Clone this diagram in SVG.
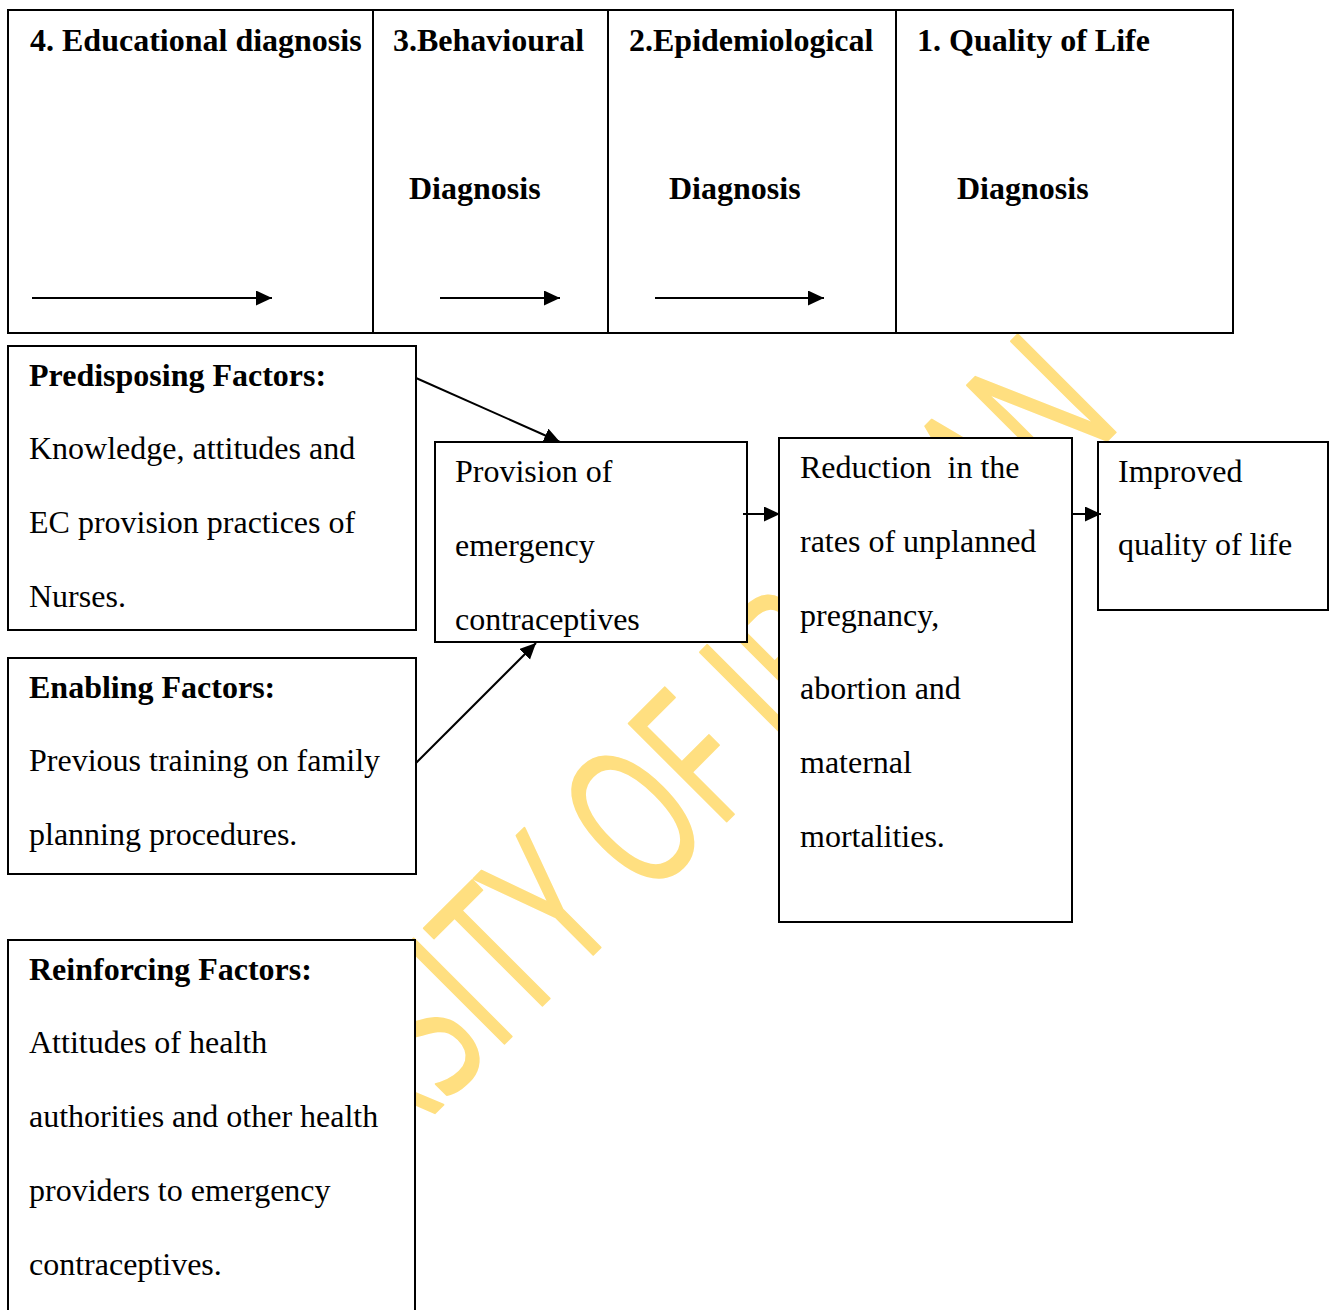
<svg xmlns="http://www.w3.org/2000/svg" width="1329" height="1310" viewBox="0 0 1329 1310">
<style>
.box{fill:#ffffff;stroke:#000000;stroke-width:2}
.div{stroke:#000000;stroke-width:2}
.t{font-family:"Liberation Serif","Times New Roman",serif;font-size:32px;fill:#000000;white-space:pre}
.b{font-weight:bold}
.con{stroke:#000000;stroke-width:2;fill:none}
.wm{font-family:"Open Sans","Noto Sans",sans-serif;font-size:194px;fill:#FFDF80;stroke:#FFDF80;stroke-width:2;stroke-linejoin:round}
</style>
<defs>
<marker id="ah" markerUnits="userSpaceOnUse" markerWidth="18" markerHeight="16" refX="16" refY="7.5" orient="auto">
<path d="M0,0 L16,7.5 L0,15 z" fill="#000000"/>
</marker>
</defs>
<rect width="1329" height="1310" fill="#ffffff"/>
<g id="watermark" transform="translate(121.5,1426.5) rotate(-45) scale(0.668,1)">
<text class="wm" x="0" y="0">UNIVERSITY OF IBADAN</text>
</g>
<g id="stages">
<rect class="box" x="8" y="10" width="1225" height="323"/>
<line class="div" x1="373" y1="10" x2="373" y2="333"/>
<line class="div" x1="608" y1="10" x2="608" y2="333"/>
<line class="div" x1="896" y1="10" x2="896" y2="333"/>
<g id="stage4"><text class="t b" x="30" y="51">4. Educational diagnosis</text></g>
<g id="stage3"><text class="t b" x="393" y="51">3.Behavioural</text><text class="t b" x="409" y="199">Diagnosis</text></g>
<g id="stage2"><text class="t b" x="629" y="51">2.Epidemiological</text><text class="t b" x="669" y="199">Diagnosis</text></g>
<g id="stage1"><text class="t b" x="917" y="51">1. Quality of Life</text><text class="t b" x="957" y="199">Diagnosis</text></g>
</g>
<g id="predisposing">
<rect class="box" x="8" y="346" width="408" height="284"/>
<text class="t b" x="29" y="386">Predisposing Factors:</text>
<text class="t" x="29" y="459">Knowledge, attitudes and</text>
<text class="t" x="29" y="533">EC provision practices of</text>
<text class="t" x="29" y="607">Nurses.</text>
</g>
<g id="enabling">
<rect class="box" x="8" y="658" width="408" height="216"/>
<text class="t b" x="29" y="698">Enabling Factors:</text>
<text class="t" x="29" y="771">Previous training on family</text>
<text class="t" x="29" y="845">planning procedures.</text>
</g>
<g id="reinforcing">
<rect class="box" x="8" y="940" width="407" height="400"/>
<text class="t b" x="29" y="980">Reinforcing Factors:</text>
<text class="t" x="29" y="1053">Attitudes of health</text>
<text class="t" x="29" y="1127">authorities and other health</text>
<text class="t" x="29" y="1201">providers to emergency</text>
<text class="t" x="29" y="1275">contraceptives.</text>
</g>
<g id="provision">
<rect class="box" x="435" y="442" width="312" height="200"/>
<text class="t" x="455" y="482">Provision of</text>
<text class="t" x="455" y="556">emergency</text>
<text class="t" x="455" y="630">contraceptives</text>
</g>
<g id="reduction">
<rect class="box" x="779" y="438" width="293" height="484"/>
<text class="t" x="800" y="478">Reduction  in the</text>
<text class="t" x="800" y="552">rates of unplanned</text>
<text class="t" x="800" y="626">pregnancy,</text>
<text class="t" x="800" y="699">abortion and</text>
<text class="t" x="800" y="773">maternal</text>
<text class="t" x="800" y="847">mortalities.</text>
</g>
<g id="improved">
<rect class="box" x="1098" y="442" width="230" height="168"/>
<text class="t" x="1118" y="482">Improved</text>
<text class="t" x="1118" y="555">quality of life</text>
</g>
<g id="connectors">
<line class="con" x1="32" y1="298" x2="272" y2="298" marker-end="url(#ah)"/>
<line class="con" x1="440" y1="298" x2="560" y2="298" marker-end="url(#ah)"/>
<line class="con" x1="655" y1="298" x2="824" y2="298" marker-end="url(#ah)"/>
<line class="con" x1="416" y1="378" x2="560" y2="442" marker-end="url(#ah)"/>
<line class="con" x1="416" y1="763" x2="536" y2="643" marker-end="url(#ah)"/>
<line class="con" x1="743" y1="514" x2="780" y2="514" marker-end="url(#ah)"/>
<line class="con" x1="1072" y1="514" x2="1101" y2="514" marker-end="url(#ah)"/>
</g>
</svg>
